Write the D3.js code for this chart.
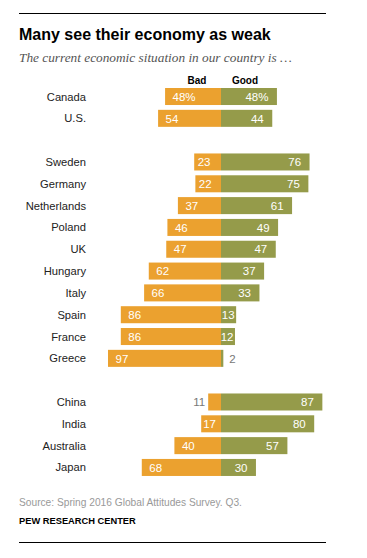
<!DOCTYPE html>
<html><head><meta charset="utf-8">
<script src="https://cdn.jsdelivr.net/npm/d3@7"></script>
<style>
body{margin:0;background:#fff;}
svg{display:block;}
</style></head>
<body>
<script>
const countries = ["Canada","U.S.","","Sweden","Germany","Netherlands","Poland","UK","Hungary","Italy","Spain","France","Greece","","China","India","Australia","Japan"];
const bad =  [48,54,null,23,22,37,46,47,62,66,86,86,97,null,11,17,40,68];
const good = [48,44,null,76,75,61,49,47,37,33,13,12,2,null,87,80,57,30];
const legendLabels = ["Bad","Good"];
const title = "Many see their economy as weak";
const subtitle = "The current economic situation in our country is \u2026";
const source = "Source: Spring 2016 Global Attitudes Survey. Q3.";
const credit = "PEW RESEARCH CENTER";

const W = 367, H = 558;
const ORANGE = "#EBA12F", GREEN = "#959B4A";
const svg = d3.select("body").append("svg").attr("width", W).attr("height", H);
const font = "'Liberation Sans', Arial, sans-serif";

svg.append("line").attr("x1",19).attr("x2",326).attr("y1",13.5).attr("y2",13.5).attr("stroke","#000").attr("stroke-width",1);
svg.append("line").attr("x1",19).attr("x2",326).attr("y1",542.5).attr("y2",542.5).attr("stroke","#000").attr("stroke-width",1);

svg.append("text").attr("x",19).attr("y",39.5).text(title)
  .attr("font-family",font).attr("font-weight","bold").attr("font-size",16).attr("fill","#000");
svg.append("text").attr("x",19).attr("y",62).text(subtitle)
  .attr("font-family","'Liberation Serif', 'Times New Roman', serif").attr("font-style","italic").attr("font-size",13.3).attr("fill","#555");

const rows = countries.map((c,i)=> ({key: c || ("blank"+i), name:c, bad:bad[i], good:good[i], i}));
const step = 21.82, pi = 0.22;
const y0 = 88 - step*pi/2;
const y = d3.scaleBand().domain(rows.map(d=>d.key)).range([y0, y0 + rows.length*step]).paddingInner(pi).paddingOuter(pi/2);
const x0 = 221;
const s = d3.scaleLinear().domain([0,100]).range([0,116.5]);

const data = rows.filter(d=>d.name);
const g = svg.append("g");

// country labels
g.selectAll(".cn").data(data).join("text")
  .attr("x",86).attr("y",d=>y(d.key)+y.bandwidth()/2+4)
  .attr("text-anchor","end").attr("font-family",font).attr("font-size",11.2).attr("fill","#222")
  .text(d=>d.name);

// bars
g.selectAll(".bb").data(data).join("rect")
  .attr("x",d=>x0 - s(d.bad)).attr("width",d=>s(d.bad))
  .attr("y",d=>y(d.key)).attr("height",y.bandwidth()).attr("fill",ORANGE);
g.selectAll(".gb").data(data).join("rect")
  .attr("x",x0).attr("width",d=>s(d.good))
  .attr("y",d=>y(d.key)).attr("height",y.bandwidth()).attr("fill",GREEN);

// value labels
const fmt = (d,v)=> d.i===0 ? v+"%" : String(v);
g.selectAll(".bl").data(data).join("text")
  .attr("font-family",font).attr("font-size",11.5)
  .attr("y",d=>y(d.key)+y.bandwidth()/2+4.2)
  .each(function(d){
    const w = s(d.bad), t = d3.select(this).text(fmt(d,d.bad));
    if (w < 16) { t.attr("x", x0 - w - 3).attr("text-anchor","end").attr("fill","#777"); }
    else { t.attr("x", x0 - w + (w > 30 ? 7.5 : (w > 25.5 ? 3.5 : 2))).attr("text-anchor","start").attr("fill","#fff"); }
  });
g.selectAll(".gl").data(data).join("text")
  .attr("font-family",font).attr("font-size",11.5)
  .attr("y",d=>y(d.key)+y.bandwidth()/2+4.2)
  .each(function(d){
    const w = s(d.good), t = d3.select(this).text(fmt(d,d.good));
    if (w < 10) { t.attr("x", x0 + w + 6).attr("text-anchor","start").attr("fill","#777"); }
    else { t.attr("x", x0 + w - (w > 25 ? 8.5 : 1.5)).attr("text-anchor","end").attr("fill","#fff"); }
  });

// legend
const first = data[0];
svg.append("text").attr("x",x0 - s(first.bad)/2 + 4).attr("y",84).attr("text-anchor","middle")
  .attr("font-family",font).attr("font-weight","bold").attr("font-size",10).attr("fill","#000").text(legendLabels[0]);
svg.append("text").attr("x",x0 + s(first.good)/2 - 4).attr("y",84).attr("text-anchor","middle")
  .attr("font-family",font).attr("font-weight","bold").attr("font-size",10).attr("fill","#000").text(legendLabels[1]);

svg.append("text").attr("x",19).attr("y",506).text(source)
  .attr("font-family",font).attr("font-size",10.2).attr("fill","#999");
svg.append("text").attr("x",19).attr("y",524).text(credit)
  .attr("font-family",font).attr("font-weight","bold").attr("font-size",9.3).attr("fill","#000");
</script>
</body></html>
